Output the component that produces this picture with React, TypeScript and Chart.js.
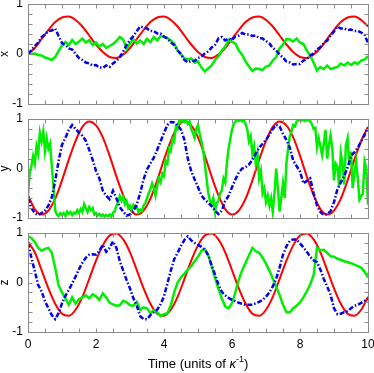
import React, { useEffect, useRef } from 'react';
import { Chart, registerables } from 'chart.js';
Chart.register(...registerables);

// ---------- data ----------
const xTickMarks = [0, 0.5, 1, 1.5, 2, 2.5, 3, 3.5, 4, 4.5, 5, 5.5, 6, 6.5, 7, 7.5, 8, 8.5, 9, 9.5, 10];
const yTickMarks = [-1, -0.8, -0.6, -0.4, -0.2, 0, 0.2, 0.4, 0.6, 0.8, 1];
const xTickLabels = [0, 2, 4, 6, 8, 10];
const yTickLabels = [-1, 0, 1];
const panelLabels = ['x', 'y', 'z'];
const xTitleParts = ['Time (units of ', 'κ', '-1', ')'];

// red curves sampled every 0.2
const xRed = [0, 0.12, 0.3, 0.48, 0.64, 0.73, 0.75, 0.68, 0.55, 0.37, 0.19, 0.04, -0.06, -0.08,
  -0.01, 0.12, 0.3, 0.48, 0.64, 0.73, 0.75, 0.68, 0.55, 0.37, 0.19, 0.04, -0.06, -0.08,
  -0.01, 0.12, 0.3, 0.48, 0.64, 0.73, 0.75, 0.68, 0.55, 0.37, 0.19, 0.04, -0.06, -0.08,
  -0.01, 0.12, 0.3, 0.48, 0.64, 0.73, 0.75, 0.68, 0.55];
const yRed = [-0.54, -0.82, -0.93, -0.85, -0.61, -0.24, 0.18, 0.56, 0.84, 0.95, 0.87, 0.63, 0.26, -0.16,
  -0.54, -0.82, -0.93, -0.85, -0.61, -0.24, 0.18, 0.56, 0.84, 0.95, 0.87, 0.63, 0.26, -0.16,
  -0.54, -0.82, -0.93, -0.85, -0.61, -0.24, 0.18, 0.56, 0.84, 0.95, 0.87, 0.63, 0.26, -0.16,
  -0.54, -0.82, -0.93, -0.85, -0.61, -0.24, 0.18, 0.56, 0.84];
const zRed = [0.82, 0.61, 0.25, -0.12, -0.43, -0.63, -0.67, -0.55, -0.29, 0.07, 0.44, 0.75, 0.95, 0.99,
  0.87, 0.61, 0.25, -0.12, -0.43, -0.63, -0.67, -0.55, -0.29, 0.07, 0.44, 0.75, 0.95, 0.99,
  0.87, 0.61, 0.25, -0.12, -0.43, -0.63, -0.67, -0.55, -0.29, 0.07, 0.44, 0.75, 0.95, 0.99,
  0.87, 0.61, 0.25, -0.12, -0.43, -0.63, -0.67, -0.55, -0.29];

// noisy curves sampled every 0.1 (yGreen every 0.05)
const xBlue = [
  0, 0.08, 0.16, 0.23, 0.34, 0.39, 0.46, 0.47, 0.51, 0.36,
  0.22, 0.18, 0.11, 0.09, 0.0, -0.08, -0.12, -0.17, -0.19, -0.23,
  -0.22, -0.27, -0.28, -0.23, -0.26, -0.19, -0.14, -0.06, 0.05, 0.18,
  0.28, 0.36, 0.46, 0.55, 0.53, 0.51, 0.46, 0.46, 0.41, 0.41,
  0.35, 0.31, 0.23, 0.18, 0.07, 0.0, -0.12, -0.17, -0.14, -0.14,
  -0.08, -0.05, 0.01, 0.05, 0.13, 0.18, 0.31, 0.34, 0.27, 0.31,
  0.28, 0.35, 0.37, 0.42, 0.39, 0.39, 0.36, 0.37, 0.32, 0.31,
  0.26, 0.21, 0.12, 0.07, -0.01, -0.07, -0.15, -0.17, -0.21, -0.2,
  -0.2, -0.13, -0.1, -0.03, 0.01, 0.09, 0.14, 0.22, 0.27, 0.37,
  0.45, 0.55, 0.51, 0.51, 0.48, 0.49, 0.46, 0.46, 0.43, 0.38,
  0.22];
const xGreen = [
  0.02, 0.0, 0.01, -0.02, -0.03, -0.07, -0.09, -0.12, -0.06, 0.06,
  0.17, 0.24, 0.18, 0.28, 0.2, 0.25, 0.31, 0.23, 0.28, 0.18,
  0.23, 0.15, 0.2, 0.12, 0.16, 0.2, 0.26, 0.34, 0.29, 0.1,
  0.21, 0.29, 0.21, 0.27, 0.2, 0.3, 0.24, 0.34, 0.27, 0.36,
  0.34, 0.32, 0.27, 0.21, 0.07, -0.01, -0.09, -0.11, -0.09, -0.17,
  -0.15, -0.27, -0.35, -0.29, -0.23, -0.12, -0.05, 0.07, 0.15, 0.28,
  0.24, 0.21, 0.07, -0.02, -0.15, -0.25, -0.34, -0.29, -0.3, -0.32,
  -0.25, -0.23, -0.13, -0.06, 0.11, 0.19, 0.3, 0.29, 0.25, 0.31,
  0.23, 0.2, 0.07, -0.03, -0.17, -0.33, -0.26, -0.3, -0.23, -0.3,
  -0.28, -0.26, -0.19, -0.23, -0.17, -0.22, -0.17, -0.2, -0.13, -0.11,
  -0.04];
const yBlue = [
  -0.6, -0.8, -0.9, -0.94, -0.9, -0.85, -0.75, -0.58, -0.25, 0.15,
  0.48, 0.62, 0.78, 0.88, 0.8, 0.72, 0.66, 0.56, 0.38, 0.18,
  -0.05, -0.2, -0.45, -0.55, -0.62, -0.45, -0.6, -0.78, -0.87, -0.95,
  -0.93, -0.86, -0.72, -0.5, -0.22, -0.02, 0.1, 0.22, 0.38, 0.55,
  0.72, 0.88, 0.94, 0.93, 0.88, 0.78, 0.58, 0.2, -0.05, -0.22,
  -0.38, -0.54, -0.63, -0.69, -0.76, -0.85, -0.92, -0.85, -0.66, -0.55,
  -0.38, -0.22, -0.08, 0.0, 0.03, 0.08, 0.18, 0.3, 0.42, 0.5,
  0.58, 0.68, 0.8, 0.88, 0.85, 0.7, 0.58, 0.42, 0.16, 0.05,
  -0.06, -0.3, -0.25, -0.2, -0.5, -0.75, -0.88, -0.94, -0.92, -0.86,
  -0.68, -0.42, -0.28, -0.15, 0.02, 0.25, 0.33, 0.42, 0.55, 0.68,
  0.82];
const yGreen = [
  -0.55, -0.1, 0.05, 0.25, 0.1, 0.45, 0.3, 0.72, 0.55, 0.75,
  0.35, 0.6, 0.4, 0.5, 0.05, -0.35, -0.85, -0.93, -0.96, -0.9,
  -0.94, -0.9, -0.96, -0.87, -0.92, -0.88, -0.94, -0.89, -0.91, -0.84,
  -0.9, -0.82, -0.88, -0.72, -0.8, -0.88, -0.78, -0.84, -0.8, -0.93,
  -0.9, -0.95, -0.92, -0.96, -0.93, -0.97, -0.94, -0.96, -0.93, -0.97,
  -0.9, -0.86, -0.75, -0.68, -0.56, -0.65, -0.57, -0.72, -0.66, -0.8,
  -0.75, -0.84, -0.74, -0.8, -0.77, -0.88, -0.83, -0.86, -0.75, -0.7,
  -0.6, -0.5, -0.42, -0.3, -0.4, -0.55, -0.35, -0.2, -0.28, -0.1,
  -0.15, 0.15, 0.1, 0.4, 0.35, 0.6, 0.55, 0.85, 0.8, 0.97,
  0.93, 0.99, 0.94, 0.98, 0.9, 0.95, 0.8, 0.72, 0.62, 0.8,
  0.88, 0.7, 0.55, 0.38, 0.1, -0.2, -0.48, -0.65, -0.72, -0.6,
  -0.86, -0.7, -0.66, -0.5, -0.45, -0.2, -0.28, 0.1, 0.4, 0.6,
  0.78, 0.9, 0.95, 0.98, 0.96, 0.99, 0.95, 0.97, 0.9, 0.78,
  0.55, 0.65, 0.3, 0.45, 0.1, 0.3, -0.2, -0.05, -0.5, -0.4,
  -0.68, -0.55, -0.75, -0.6, -0.87, -0.5, 0.0, -0.4, -0.87, -0.6,
  -0.3, -0.6, 0.1, 0.4, 0.65, 0.75, 0.88, 0.85, 0.95, 0.97,
  1.0, 0.97, 0.99, 0.96, 1.0, 0.97, 0.95, 0.9, 0.8, 0.82,
  0.43, 0.61, 0.45, 0.27, 0.5, 0.78, 0.2, 0.47, 0.67, 0.4,
  -0.24, 0.1, 0.04, -0.36, 0.31, 0.1, -0.32, 0.47, 0.61, 0.07,
  0.34, -0.4, -0.1, 0.14, -0.2, -0.63, -0.56, -0.5, 0.14, 0.0,
  -0.73];
const zBlue = [
  0.8, 0.5, 0.23, -0.05, -0.18, -0.38, -0.52, -0.66, -0.74, -0.62,
  -0.42, -0.27, -0.15, -0.02, 0.12, 0.27, 0.4, 0.5, 0.56, 0.57,
  0.56, 0.64, 0.76, 0.62, 0.7, 0.83, 0.7, 0.43, 0.24, 0.05,
  -0.12, -0.32, -0.47, -0.68, -0.74, -0.74, -0.66, -0.6, -0.55, -0.44,
  -0.28, -0.02, 0.24, 0.47, 0.6, 0.74, 0.86, 0.93, 0.85, 0.8,
  0.76, 0.72, 0.66, 0.55, 0.35, 0.16, -0.04, -0.19, -0.26, -0.31,
  -0.35, -0.38, -0.41, -0.43, -0.45, -0.45, -0.45, -0.42, -0.39, -0.35,
  -0.29, -0.2, -0.08, 0.08, 0.3, 0.56, 0.73, 0.84, 0.87, 0.87,
  0.79, 0.71, 0.62, 0.52, 0.45, 0.41, 0.26, 0.07, -0.08, -0.25,
  -0.52, -0.64, -0.63, -0.6, -0.58, -0.52, -0.47, -0.45, -0.41, -0.37,
  -0.35];
const zGreen = [
  0.93, 0.9, 0.82, 0.7, 0.64, 0.68, 0.7, 0.6, 0.3, -0.06,
  -0.2, -0.32, -0.45, -0.3, -0.43, -0.34, -0.3, -0.26, -0.32, -0.24,
  -0.28, -0.35, -0.22, -0.3, -0.41, -0.44, -0.47, -0.46, -0.37, -0.4,
  -0.46, -0.47, -0.39, -0.55, -0.5, -0.52, -0.62, -0.56, -0.6, -0.68,
  -0.64, -0.62, -0.46, -0.2, 0.0, 0.1, 0.18, 0.26, 0.33, 0.43,
  0.52, 0.64, 0.68, 0.56, 0.33, 0.1, -0.13, -0.32, -0.48, -0.52,
  -0.42, -0.2, 0.06, 0.25, 0.4, 0.55, 0.7, 0.63, 0.6, 0.5,
  0.38, 0.24, 0.08, -0.09, -0.25, -0.45, -0.6, -0.6, -0.52, -0.47,
  -0.4, -0.3, -0.18, -0.04, 0.15, 0.7, 0.65, 0.66, 0.6, 0.53,
  0.52, 0.48, 0.46, 0.43, 0.41, 0.39, 0.36, 0.33, 0.3, 0.22,
  0.1];

const RED_STEP = 0.2;
const NOISY_STEP = 0.1;
const FINE_STEP = 0.05;

// ---------- styles ----------
const FONT = "'Liberation Sans', Arial, Helvetica, sans-serif";
const RED = '#ff0000';
const GREEN = '#00ee00';
const BLUE = '#0000ee';
const FRAME = '#8a8a8a';

const toPoints = (vals: number[], step: number) =>
  vals.map((v, i) => ({ x: Math.round(i * step * 100) / 100, y: v }));

const framePlugin = {
  id: 'frameTicks',
  afterDatasetsDraw(chart: any) {
    const { ctx, chartArea: a, scales } = chart;
    const xs = scales.x;
    const ys = scales.y;
    const L = Math.round(a.left) + 0.5;
    const R = Math.round(a.right) + 0.5;
    const T = Math.round(a.top) + 0.5;
    const B = Math.round(a.bottom) + 0.5;
    ctx.save();
    ctx.strokeStyle = FRAME;
    ctx.lineWidth = 1;
    ctx.strokeRect(L, T, R - L, B - T);
    ctx.beginPath();
    xTickMarks.forEach((v) => {
      const px = Math.round(xs.getPixelForValue(v)) + 0.5;
      ctx.moveTo(px, T);
      ctx.lineTo(px, T + 4);
      ctx.moveTo(px, B);
      ctx.lineTo(px, B - 4);
    });
    yTickMarks.forEach((v) => {
      const py = Math.round(ys.getPixelForValue(v)) + 0.5;
      ctx.moveTo(L, py);
      ctx.lineTo(L + 4, py);
      ctx.moveTo(R, py);
      ctx.lineTo(R - 4, py);
    });
    ctx.stroke();
    ctx.restore();
  },
};

const titlePlugin = {
  id: 'xTitle',
  afterDraw(chart: any) {
    const { ctx, chartArea: a } = chart;
    const fonts = [`13px ${FONT}`, `italic 13px ${FONT}`, `9px ${FONT}`, `13px ${FONT}`];
    const dys = [0, 0, -6, 0];
    ctx.save();
    ctx.fillStyle = '#000';
    ctx.textBaseline = 'alphabetic';
    ctx.textAlign = 'left';
    let total = 0;
    const widths = xTitleParts.map((t, i) => {
      ctx.font = fonts[i];
      const w = ctx.measureText(t).width;
      total += w;
      return w;
    });
    let x = (a.left + a.right) / 2 - total / 2;
    const y = a.bottom + 36;
    xTitleParts.forEach((t, i) => {
      ctx.font = fonts[i];
      ctx.fillText(t, x, y + dys[i]);
      x += widths[i];
    });
    ctx.restore();
  },
};

type PanelProps = {
  label: string;
  red: number[];
  green: number[];
  blue: number[];
  greenStep: number;
  height: number;
  top: number;
  padTop: number;
  padBottom: number;
  showX: boolean;
};

function Panel(p: PanelProps) {
  const ref = useRef<HTMLCanvasElement | null>(null);
  useEffect(() => {
    if (!ref.current) return;
    const tickFont = { family: FONT, size: 12 };
    const chart = new Chart(ref.current, {
      type: 'line',
      data: {
        datasets: [
          {
            data: toPoints(p.blue, NOISY_STEP),
            borderColor: BLUE,
            borderWidth: 2.5,
            borderDash: [5, 2, 1.5, 2],
            pointRadius: 0,
            tension: 0,
            fill: false,
          },
          {
            data: toPoints(p.green, p.greenStep),
            borderColor: GREEN,
            borderWidth: 2.5,
            pointRadius: 0,
            tension: 0,
            fill: false,
          },
          {
            data: toPoints(p.red, RED_STEP),
            borderColor: RED,
            borderWidth: 2,
            pointRadius: 0,
            cubicInterpolationMode: 'monotone',
            fill: false,
          },
        ],
      },
      options: {
        animation: false,
        responsive: false,
        events: [],
        layout: { padding: { left: 0, right: 6, top: p.padTop, bottom: p.padBottom } },
        plugins: { legend: { display: false }, tooltip: { enabled: false } },
        scales: {
          x: {
            type: 'linear',
            min: 0,
            max: 10,
            display: p.showX,
            grid: { display: false, drawTicks: false },
            border: { display: false },
            ticks: {
              font: tickFont,
              color: '#000',
              padding: 5,
              maxRotation: 0,
              autoSkip: false,
              callback: (v: any) => String(v),
            },
            afterBuildTicks: (s: any) => {
              s.ticks = xTickLabels.map((v) => ({ value: v }));
            },
            afterFit: (s: any) => {
              if (p.showX) s.height = 41;
              s.paddingLeft = 0;
              s.paddingRight = 0;
            },
          },
          y: {
            type: 'linear',
            min: -1,
            max: 1,
            grid: { display: false, drawTicks: false },
            border: { display: false },
            ticks: {
              font: tickFont,
              color: '#000',
              padding: 5,
              callback: (v: any) => String(v),
            },
            title: {
              display: true,
              text: p.label,
              color: '#000',
              font: { family: FONT, size: 12, lineHeight: 1 },
              padding: { top: -1, bottom: 0 },
            },
            afterBuildTicks: (s: any) => {
              s.ticks = yTickLabels.map((v) => ({ value: v }));
            },
            afterFit: (s: any) => {
              s.width = 28;
              s.paddingTop = 0;
              s.paddingBottom = 0;
            },
          },
        },
      } as any,
      plugins: p.showX ? [framePlugin, titlePlugin] : [framePlugin],
    });
    return () => chart.destroy();
  }, []);
  return (
    <canvas
      ref={ref}
      width={374}
      height={p.height}
      style={{ position: 'absolute', left: 0, top: p.top, width: 374, height: p.height }}
    />
  );
}

export default function App() {
  return (
    <div style={{ position: 'fixed', left: 0, top: 0, width: 374, height: 373, background: '#fff' }}>
      <Panel label={panelLabels[0]} red={xRed} green={xGreen} blue={xBlue} greenStep={NOISY_STEP}
        top={0} height={112} padTop={4} padBottom={8} showX={false} />
      <Panel label={panelLabels[1]} red={yRed} green={yGreen} blue={yBlue} greenStep={FINE_STEP}
        top={112} height={114} padTop={7} padBottom={8} showX={false} />
      <Panel label={panelLabels[2]} red={zRed} green={zGreen} blue={zBlue} greenStep={NOISY_STEP}
        top={226} height={147} padTop={7} padBottom={0} showX={true} />
    </div>
  );
}
